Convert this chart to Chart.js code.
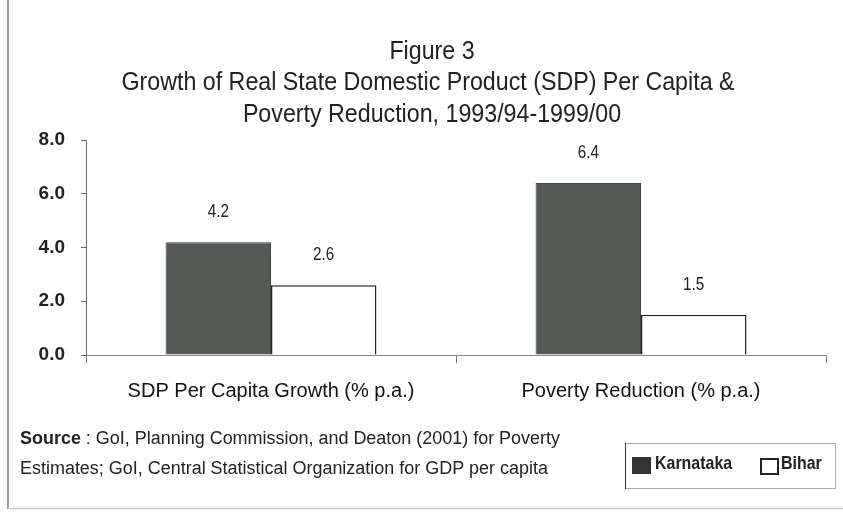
<!DOCTYPE html>
<html>
<head>
<meta charset="utf-8">
<script src="https://cdn.jsdelivr.net/npm/chart.js@4.4.0/dist/chart.umd.min.js"></script>
<style>
  html, body { margin: 0; padding: 0; background: #fff; }
  #wrap { position: relative; width: 843px; height: 515px; }
</style>
</head>
<body>
<div id="wrap"><canvas id="chart" width="843" height="515"></canvas></div>
<script>
const categories = ['SDP Per Capita Growth (% p.a.)', 'Poverty Reduction (% p.a.)'];
const karnataka = [4.2, 6.4];
const bihar = [2.6, 1.5];
const yTicks = [0, 2, 4, 6, 8];
const titleLines = ['Figure 3', 'Growth of Real State Domestic Product (SDP) Per Capita &', 'Poverty Reduction, 1993/94-1999/00'];
const sourceLines = ['Source', ' : GoI, Planning Commission, and Deaton (2001) for Poverty', 'Estimates; GoI, Central Statistical Organization for GDP per capita'];

const FONT = "'Liberation Sans', Arial, sans-serif";
const darkFill = '#565a56';

// draw text squeezed horizontally, like the narrow face of the original
function narrowText(ctx, text, x, y, sx) {
    ctx.save();
    ctx.translate(x, y);
    ctx.scale(sx, 1);
    ctx.fillText(text, 0, 0);
    ctx.restore();
}

// value labels above the bars
const valueLabels = {
    id: 'valueLabels',
    afterDatasetsDraw(chart) {
        const ctx = chart.ctx;
        ctx.save();
        ctx.font = '18px ' + FONT;
        ctx.fillStyle = '#222';
        ctx.textAlign = 'center';
        ctx.textBaseline = 'middle';
        chart.data.datasets.forEach((ds, i) => {
            chart.getDatasetMeta(i).data.forEach((bar, j) => {
                narrowText(ctx, ds.data[j].toFixed(1), bar.x, bar.y - 30, 0.85);
            });
        });
        ctx.restore();
    }
};

// title, source note, legend box, page frame
const decorations = {
    id: 'decorations',
    afterDraw(chart) {
        const ctx = chart.ctx;
        ctx.save();
        ctx.fillStyle = '#222';
        ctx.textAlign = 'center';
        ctx.textBaseline = 'middle';
        ctx.font = '26px ' + FONT;
        const tsx = 613 / ctx.measureText(titleLines[1]).width;
        narrowText(ctx, titleLines[0], 432, 52, tsx);
        narrowText(ctx, titleLines[1], 428, 83, tsx);
        narrowText(ctx, titleLines[2], 432, 115, tsx);

        // source
        ctx.textAlign = 'left';
        ctx.font = 'bold 18px ' + FONT;
        const w0 = ctx.measureText(sourceLines[0]).width;
        ctx.font = '18px ' + FONT;
        const w1 = ctx.measureText(sourceLines[1]).width;
        const ssx = 540 / (w0 + w1);
        ctx.font = 'bold 18px ' + FONT;
        narrowText(ctx, sourceLines[0], 20, 439, ssx);
        ctx.font = '18px ' + FONT;
        narrowText(ctx, sourceLines[1], 20 + w0 * ssx, 439, ssx);
        narrowText(ctx, sourceLines[2], 20, 469, ssx);

        // legend box
        ctx.strokeStyle = '#aaa';
        ctx.lineWidth = 1;
        ctx.strokeRect(625.5, 443.5, 210, 45);
        ctx.strokeStyle = '#333';
        ctx.beginPath();
        ctx.moveTo(625.5, 443);
        ctx.lineTo(625.5, 489);
        ctx.stroke();
        ctx.fillStyle = '#333';
        ctx.fillRect(632, 457, 19, 17);
        ctx.lineWidth = 2;
        ctx.strokeStyle = '#222';
        ctx.strokeRect(761, 459, 17, 15);
        ctx.fillStyle = '#222';
        ctx.font = 'bold 19px ' + FONT;
        narrowText(ctx, 'Karnataka', 655, 464, 0.84);
        narrowText(ctx, 'Bihar', 781, 464, 0.84);

        // scanned page frame
        ctx.strokeStyle = '#999';
        ctx.lineWidth = 2;
        ctx.beginPath();
        ctx.moveTo(8, 0);
        ctx.lineTo(8, 509);
        ctx.stroke();
        ctx.strokeStyle = '#ccc';
        ctx.lineWidth = 1.5;
        ctx.beginPath();
        ctx.moveTo(8, 508.5);
        ctx.lineTo(843, 508.5);
        ctx.stroke();
        ctx.restore();
    }
};

new Chart(document.getElementById('chart').getContext('2d'), {
    type: 'bar',
    data: {
        labels: categories,
        datasets: [
            {
                label: 'Karnataka',
                data: karnataka,
                backgroundColor: darkFill,
                borderColor: '#444',
                borderWidth: 1
            },
            {
                label: 'Bihar',
                data: bihar,
                backgroundColor: '#fff',
                borderColor: '#222',
                borderWidth: 1.5
            }
        ]
    },
    options: {
        responsive: false,
        animation: false,
        layout: { padding: { top: 140, left: 26, right: 17, bottom: 100 } },
        datasets: {
            bar: { categoryPercentage: 0.57, barPercentage: 1.0 }
        },
        scales: {
            x: {
                afterFit: scale => { scale.height = 60; },
                grid: {
                    offset: true,
                    drawOnChartArea: false,
                    drawTicks: true,
                    tickLength: 8,
                    color: '#777'
                },
                border: { color: '#888', width: 1 },
                ticks: {
                    color: '#111',
                    padding: 16,
                    font: { family: FONT, size: 20 }
                }
            },
            y: {
                min: 0,
                max: 8,
                afterFit: scale => { scale.width = 60; },
                afterBuildTicks: scale => { scale.ticks = yTicks.map(v => ({ value: v })); },
                grid: {
                    drawOnChartArea: false,
                    drawTicks: true,
                    tickLength: 5,
                    color: '#666'
                },
                border: { color: '#666', width: 1, dash: [9, 3] },
                ticks: {
                    color: '#222',
                    padding: 16,
                    font: { family: FONT, size: 19, weight: 'bold' },
                    callback: v => v.toFixed(1)
                }
            }
        },
        plugins: {
            legend: { display: false },
            title: { display: false },
            tooltip: { enabled: false }
        }
    },
    plugins: [valueLabels, decorations]
});
</script>
</body>
</html>
